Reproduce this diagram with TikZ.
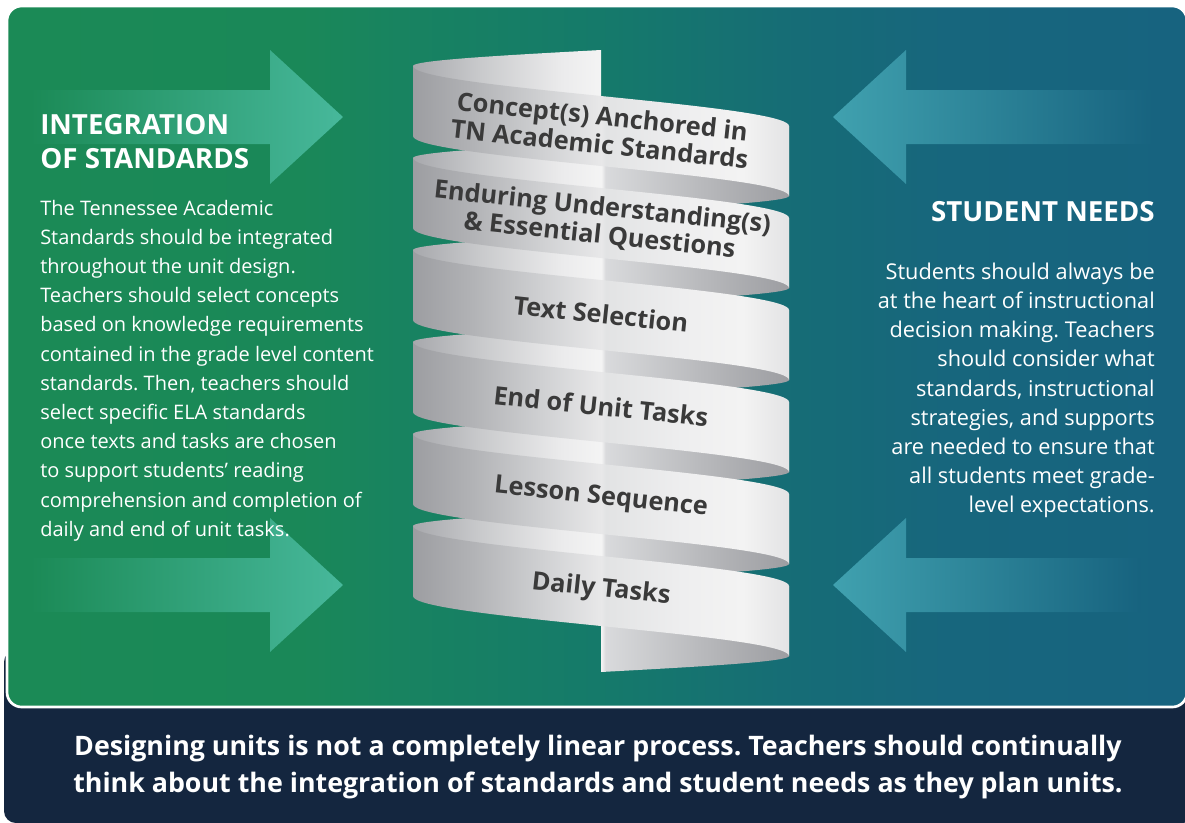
\documentclass[tikz,border=0pt]{standalone}
\usepackage{fontspec}
\setmainfont{Open Sans}
\usepackage{xcolor}
\usepackage{tikz}
\usetikzlibrary{positioning}
\frenchspacing

\definecolor{navy}{HTML}{14263F}
\definecolor{pgreen}{HTML}{1B8A56}
\definecolor{pblue}{HTML}{17637F}
\definecolor{arrowL}{HTML}{47B89B}
\definecolor{arrowR}{HTML}{40A1AF}
\definecolor{inktext}{HTML}{3A3A3A}
\definecolor{pA}{HTML}{1B8A56}
\definecolor{pB}{HTML}{1A8858}
\definecolor{pC}{HTML}{188360}
\definecolor{pD}{HTML}{157A6A}
\definecolor{pE}{HTML}{166C76}
\definecolor{pF}{HTML}{17667D}
\definecolor{pG}{HTML}{17637F}
\definecolor{fA}{HTML}{9C9DA1}
\definecolor{fB}{HTML}{B1B2B5}
\definecolor{fC}{HTML}{CFD0D2}
\definecolor{fD}{HTML}{E8E8E9}
\definecolor{fE}{HTML}{E2E3E4}
\definecolor{fF}{HTML}{EEEEEF}
\definecolor{fG}{HTML}{F3F3F3}
\definecolor{fH}{HTML}{E3E3E4}
\definecolor{bA}{HTML}{A7A8AC}
\definecolor{bB}{HTML}{C9CACC}
\definecolor{bC}{HTML}{EBEBEC}
\definecolor{bD}{HTML}{F4F4F4}
\definecolor{bE}{HTML}{D9DADC}
\definecolor{bF}{HTML}{B8B9BC}
\definecolor{bG}{HTML}{9C9DA1}

\pgfdeclarehorizontalshading{panelshade}{100bp}{color(0bp)=(pA); color(25bp)=(pA);
  color(37.4bp)=(pB); color(41.6bp)=(pC); color(50bp)=(pD); color(58.5bp)=(pE);
  color(64.9bp)=(pF); color(75bp)=(pG); color(100bp)=(pG)}
\pgfdeclarehorizontalshading{frontshade}{100bp}{color(0bp)=(fA); color(25bp)=(fA);
  color(32.75bp)=(fB); color(42.05bp)=(fC); color(50.05bp)=(fD); color(50.6bp)=(fE);
  color(60.75bp)=(fF); color(68.75bp)=(fG); color(75bp)=(fH); color(100bp)=(fH)}
\pgfdeclarehorizontalshading{backshade}{100bp}{color(0bp)=(bA); color(25bp)=(bA);
  color(34.05bp)=(bB); color(44.75bp)=(bC); color(50.05bp)=(bD); color(50.6bp)=(bE);
  color(63.4bp)=(bF); color(75bp)=(bG); color(100bp)=(bG)}

\begin{document}
\begin{tikzpicture}[
  x=0.75pt, y=-0.75pt,
  title/.style={text=white, font=\bfseries\fontsize{20.8}{25.5}\selectfont, inner sep=0pt},
  body/.style={text=white, font=\fontsize{15}{21.9}\selectfont, inner sep=0pt},
  bigbody/.style={body, font=\fontsize{16.3}{21.9}\selectfont},
  bandtext/.style={text=inktext, font=\bfseries\fontsize{19}{21}\selectfont, rotate=-6, align=center, inner sep=0pt},
  note/.style={text=white, font=\bfseries\fontsize{20.1}{28}\selectfont, align=center, inner sep=0pt},
  pushL/.style={left color=pgreen, right color=arrowL},
  pushR/.style={left color=arrowR, right color=pblue}
]
\useasboundingbox (0,0) rectangle (1185,822);
\fill[white] (0,0) rectangle (1185,822);

% panels
\fill[navy, rounded corners=9pt] (4,650) rectangle (1195,823);
\shadedraw[shading=panelshade, draw=white, line width=2pt, rounded corners=11pt] (7,6) rectangle (1187,707);

% arrows
\foreach \dy in {0,468} {
  \shade[pushL] (30,{90+\dy}) -- (270,{90+\dy}) -- (270,{50+\dy}) -- (343,{117+\dy})
    -- (270,{184+\dy}) -- (270,{144+\dy}) -- (30,{144+\dy}) -- cycle;
}
\foreach \dy/\xe in {0/1153, 468/1140} {
  \shade[pushR] (833,{117+\dy}) -- (906,{50+\dy}) -- (906,{90+\dy}) -- (\xe,{90+\dy})
    -- (\xe,{144+\dy}) -- (906,{144+\dy}) -- (906,{184+\dy}) -- cycle;
}

% spiral: inner side of the back halves
\foreach \n in {-1,...,5} {
  \pgfmathsetmacro{\L}{66+92*\n}
  \pgfmathsetmacro{\pa}{ifthenelse(\n<0,90,0)}
  \pgfmathsetmacro{\pb}{ifthenelse(\n>4,90,180)}
  \begin{scope}
    \clip plot[domain=\pa:\pb, samples=40, variable=\t] ({601+188*cos(\t)},{\L+60+32*\t/180})
      -- plot[domain=\pb:\pa, samples=40, variable=\t] ({601+188*cos(\t)},{\L+130+32*\t/180}) -- cycle;
    \shade[shading=backshade] (412,0) rectangle (790,822);
  \end{scope}
}
% spiral: front halves
\foreach \n in {0,...,5} {
  \pgfmathsetmacro{\L}{66+92*\n}
  \begin{scope}
    \clip plot[domain=0:180, samples=40, variable=\t] ({601-188*cos(\t)},{\L+60*\t/180})
      -- plot[domain=180:0, samples=40, variable=\t] ({601-188*cos(\t)},{\L+70+60*\t/180}) -- cycle;
    \shade[shading=frontshade] (412,0) rectangle (790,822);
  \end{scope}
}

\node[bandtext] (concept) at (601,130) {Concept(s) Anchored in\\TN Academic Standards};
\node[bandtext] (enduring) at (601,222) {Enduring Understanding(s)\\\& Essential Questions};
\node[bandtext] (textsel) at (601,314) {Text Selection};
\node[bandtext] (endunit) at (601,406) {End of Unit Tasks};
\node[bandtext] (lesson) at (601,498) {Lesson Sequence};
\node[bandtext] (daily) at (601,590) {Daily Tasks};

% side texts
\node[title, align=left, anchor=north west] (intTitle) at (40,114) {INTEGRATION\\OF STANDARDS};
\node[body, align=left, below=23pt of intTitle.south west, anchor=north west] (intBody)
  {The Tennessee Academic\\Standards should be integrated\\throughout the unit design.\\
   Teachers should select concepts\\based on knowledge requirements\\
   contained in the grade level content\\standards. Then, teachers should\\
   select specific ELA standards\\once texts and tasks are chosen\\
   to support students' reading\\comprehension and completion of\\daily and end of unit tasks.};

\node[title, align=right, anchor=north east] (needsTitle) at (1155,201) {STUDENT NEEDS};
\node[bigbody, align=right, below=30.5pt of needsTitle.south east, anchor=north east] (needsBody)
  {Students should always be\\at the heart of instructional\\decision making. Teachers\\
   should consider what\\standards, instructional\\strategies, and supports\\
   are needed to ensure that\\all students meet grade-\\level expectations.};

\node[note] (note) at (598,767) {Designing units is not a completely linear process. Teachers should continually\\
  think about the integration of standards and student needs as they plan units.};
\end{tikzpicture}
\end{document}
